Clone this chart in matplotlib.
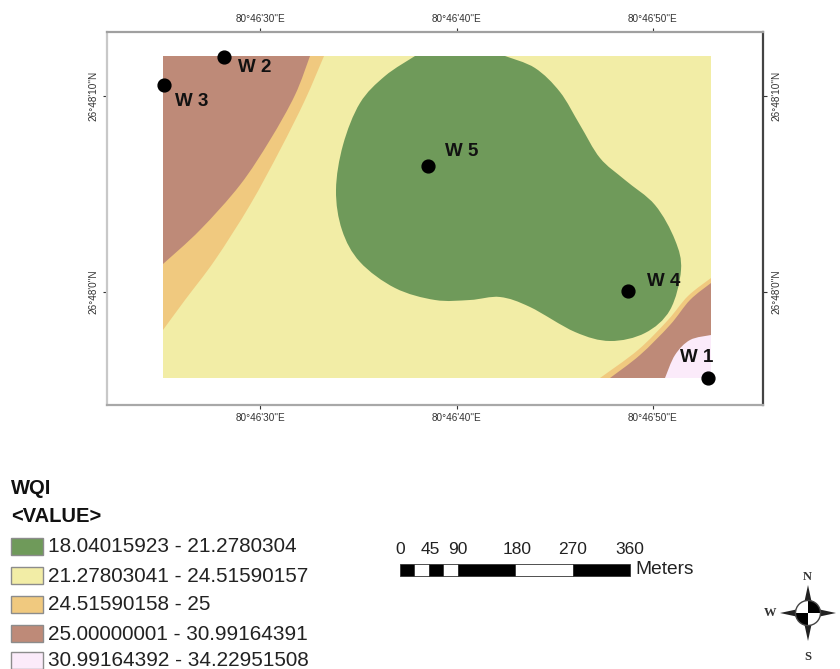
import numpy as np
import matplotlib
matplotlib.use('Agg')
import matplotlib.pyplot as plt
from matplotlib.path import Path
from matplotlib.patches import PathPatch, Rectangle, Circle, Polygon, Wedge

plt.rcParams['font.family'] = ['Liberation Sans', 'DejaVu Sans']

W, H = 840, 669

# map extent, in picture pixels
frame_x = [107, 763]
frame_y = [32, 405]
raster_x = [163, 711]
raster_y = [56, 378]

# class colours and legend text
legend_title = 'WQI'
legend_field = '<VALUE>'
class_labels = ['18.04015923 - 21.2780304',
                '21.27803041 - 24.51590157',
                '24.51590158 - 25',
                '25.00000001 - 30.99164391',
                '30.99164392 - 34.22951508']
class_colors = ['#6F9A5A', '#F2EDA6', '#F0C97F', '#BE8A78', '#FBEBFA']
legend_rows = [547, 576, 605, 634, 661]

# zone outlines
green_x = [415, 385, 360, 343, 336, 342, 360, 395, 435, 470, 500, 530, 575, 610,
           645, 670, 681, 675, 655, 625, 600, 580, 560, 535, 505]
green_y = [56, 76, 103, 145, 190, 230, 262, 288, 300, 300, 297, 307, 332, 341,
           333, 310, 270, 240, 205, 180, 158, 125, 92, 68, 56]
orange_nw_x = [324, 305, 280, 250, 215, 185, 163]
orange_nw_y = [56, 100, 150, 205, 260, 300, 330]
brown_nw_x = [310, 295, 270, 240, 200, 163]
brown_nw_y = [56, 95, 140, 185, 230, 264]
orange_se_x = [711, 688, 668, 638, 600]
orange_se_y = [278, 296, 320, 350, 378]
brown_se_x = [711, 690, 670, 640, 610]
brown_se_y = [283, 300, 325, 355, 378]
pink_se_x = [711, 690, 675, 665]
pink_se_y = [335, 340, 355, 378]

# wells
well_names = ['W 1', 'W 2', 'W 3', 'W 4', 'W 5']
well_x = [708, 224, 164, 628, 428]
well_y = [378, 57, 85, 291, 166]
label_x = [680, 238, 175, 647, 445]
label_y = [357, 68, 101, 282, 152]

# graticule
lon_ticks = [260, 457, 653]
lon_labels = ['80°46\'30"E', '80°46\'40"E', '80°46\'50"E']
lat_ticks = [96, 292]
lat_labels = ['26°48\'10"N', '26°48\'0"N']

# scale bar
scale_ticks = [0, 45, 90, 180, 270, 360]
scale_breaks = [0, 22.5, 45, 67.5, 90, 180, 270, 360]
scale_label_x = [400, 430, 458, 517, 573, 630]


def smooth_path(x, y, close_with=None):
    """Bezier path through the points, extra corners are joined with straight lines"""
    pts = np.column_stack([x, y]).astype(float)
    verts = [pts[0]]
    codes = [Path.MOVETO]
    n = len(pts)
    for i in range(n - 1):
        p0 = pts[max(i - 1, 0)]
        p1 = pts[i]
        p2 = pts[i + 1]
        p3 = pts[min(i + 2, n - 1)]
        verts += [p1 + (p2 - p0) / 6, p2 - (p3 - p1) / 6, p2]
        codes += [Path.CURVE4] * 3
    for c in (close_with or []):
        verts.append(c)
        codes.append(Path.LINETO)
    verts.append(pts[0])
    codes.append(Path.CLOSEPOLY)
    return Path(np.array(verts), codes)


def draw_compass(ax, cx, cy):
    r = 28
    w = 6
    for dx, dy in [(0, -1), (0, 1), (-1, 0), (1, 0)]:
        tip = (cx + dx * r, cy + dy * r)
        a = (cx - dy * w, cy + dx * w)
        b = (cx + dy * w, cy - dx * w)
        ax.add_patch(Polygon([tip, a, (cx, cy), b], fc='#222222', ec='none', zorder=3))
    ax.add_patch(Circle((cx, cy), 12.5, fc='white', ec='none', zorder=4))
    # y axis is flipped here, so these angles come out mirrored
    ax.add_patch(Wedge((cx, cy), 12.5, 270, 360, fc='black', ec='none', zorder=5))
    ax.add_patch(Wedge((cx, cy), 12.5, 90, 180, fc='black', ec='none', zorder=5))
    ax.add_patch(Circle((cx, cy), 12.5, fc='none', ec='#444444', lw=1, zorder=6))
    serif = 'Liberation Serif'
    ax.text(cx - 1, cy - 36, 'N', family=serif, weight='bold', fontsize=9, ha='center', va='center', color='#333333')
    ax.text(cx, cy + 44, 'S', family=serif, weight='bold', fontsize=9, ha='center', va='center', color='#333333')
    ax.text(cx - 38, cy, 'W', family=serif, weight='bold', fontsize=9, ha='center', va='center', color='#333333')


def main():
    fig = plt.figure(figsize=(W / 100, H / 100), dpi=100)

    # map frame
    ax = fig.add_axes([frame_x[0] / W, 1 - frame_y[1] / H,
                       (frame_x[1] - frame_x[0]) / W, (frame_y[1] - frame_y[0]) / H])
    ax.set_xlim(frame_x)
    ax.set_ylim(frame_y[1], frame_y[0])

    x0, x1 = raster_x
    y0, y1 = raster_y
    ax.add_patch(Rectangle((x0, y0), x1 - x0, y1 - y0, fc=class_colors[1], ec='none'))
    ax.add_patch(PathPatch(smooth_path(orange_nw_x, orange_nw_y, [(x0, y0)]), fc=class_colors[2], ec='none'))
    ax.add_patch(PathPatch(smooth_path(brown_nw_x, brown_nw_y, [(x0, y0)]), fc=class_colors[3], ec='none'))
    ax.add_patch(PathPatch(smooth_path(green_x, green_y), fc=class_colors[0], ec='none'))
    ax.add_patch(PathPatch(smooth_path(orange_se_x, orange_se_y, [(x1, y1)]), fc=class_colors[2], ec='none'))
    ax.add_patch(PathPatch(smooth_path(brown_se_x, brown_se_y, [(x1, y1)]), fc=class_colors[3], ec='none'))
    ax.add_patch(PathPatch(smooth_path(pink_se_x, pink_se_y, [(x1, y1)]), fc=class_colors[4], ec='none'))

    ax.scatter(well_x, well_y, s=85, c='black', zorder=5, clip_on=False)
    for name, lx, ly in zip(well_names, label_x, label_y):
        ax.text(lx, ly, name, fontsize=13.5, weight='bold', color='#111111', ha='left', va='center', zorder=6)

    ax.set_xticks(lon_ticks)
    ax.set_xticklabels(lon_labels)
    ax.set_yticks(lat_ticks)
    ax.set_yticklabels(lat_labels)
    ax.tick_params(top=True, right=True, labeltop=True, labelright=True, length=3,
                   width=0.8, labelsize=7.2, pad=3, color='#333333', labelcolor='#333333')
    for lab in ax.get_yticklabels():
        lab.set_rotation(90)
        lab.set_va('center')
    ax.spines['left'].set_color('#c8c8c8')
    ax.spines['top'].set_color('#a0a0a0')
    ax.spines['bottom'].set_color('#a8a8a8')
    ax.spines['right'].set_color('#444444')
    for s in ax.spines.values():
        s.set_linewidth(1.6)

    # everything outside the map, drawn on a full page overlay
    page = fig.add_axes([0, 0, 1, 1])
    page.set_xlim(0, W)
    page.set_ylim(H, 0)
    page.axis('off')
    page.patch.set_alpha(0)

    page.text(11, 488, legend_title, fontsize=14.5, weight='bold', va='center', color='#111111')
    page.text(11, 517, legend_field, fontsize=14.5, weight='bold', va='center', color='#111111')
    for label, color, row in zip(class_labels, class_colors, legend_rows):
        page.add_patch(Rectangle((11, row - 9), 32, 17, fc=color, ec='#8c8c8c', lw=1))
        page.text(47.5, row, label, fontsize=14.95, va='center', color='#222222')

    # scale bar
    bar_x = 400
    bar_k = 230 / 360
    for i in range(len(scale_breaks) - 1):
        fc = 'black' if i % 2 == 0 else 'white'
        page.add_patch(Rectangle((bar_x + scale_breaks[i] * bar_k, 564),
                                 (scale_breaks[i + 1] - scale_breaks[i]) * bar_k, 12,
                                 fc=fc, ec='#333333', lw=0.6))
    for v, lx in zip(scale_ticks, scale_label_x):
        page.text(lx, 550, str(v), fontsize=12.5, ha='center', va='center', color='#222222')
    page.text(635, 570, 'Meters', fontsize=13.8, va='center', color='#222222')

    draw_compass(page, 808, 613)

    fig.savefig('out.png', dpi=100)


if __name__ == "__main__":
    main()
